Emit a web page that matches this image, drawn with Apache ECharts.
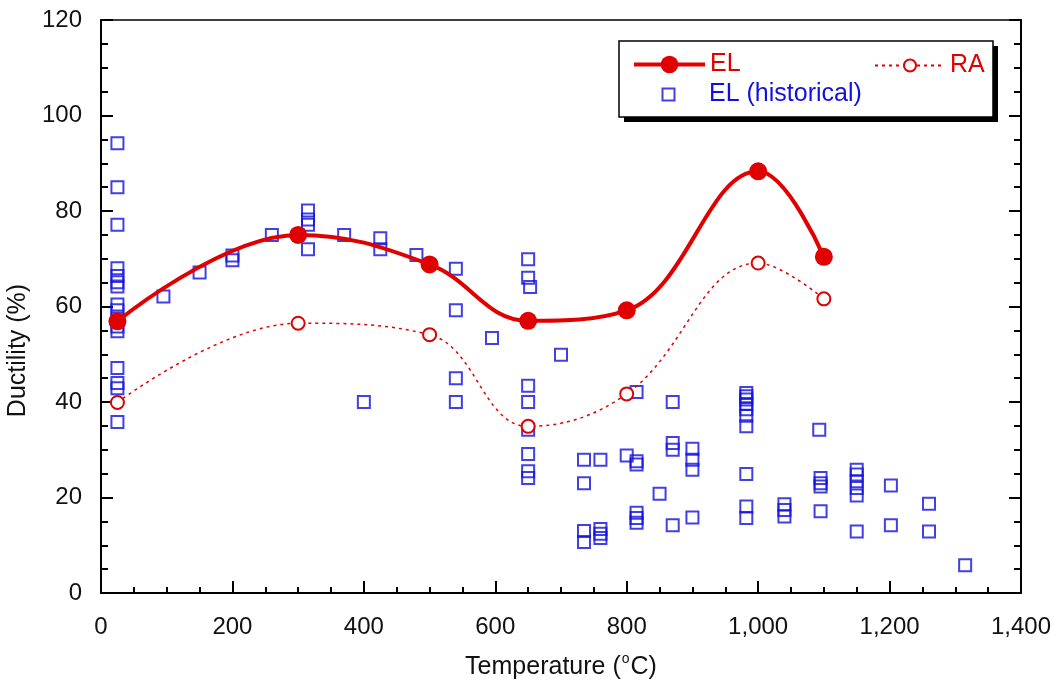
<!DOCTYPE html>
<html>
<head>
<meta charset="utf-8">
<script src="https://cdn.jsdelivr.net/npm/echarts@6/dist/echarts.min.js"></script>
<style>
html,body{margin:0;padding:0;background:#fff;}
#chart{width:1055px;height:683px;}
</style>
</head>
<body>
<div id="chart"></div>
<script>
// ---- data ----
const temps = [25, 300, 500, 650, 800, 1000, 1100];
const elValues = [56.9, 75, 68.8, 57, 59.2, 88.3, 70.4];
const raValues = [39.9, 56.5, 54.1, 34.9, 41.7, 69.1, 61.6];

const histTemp = [
  25,25,25,25,25,25,25,25,25,25,25,25,25,25,25,25,
  95,150,200,200,260,315,315,315,315,370,400,425,425,480,
  540,540,540,540,595,
  650,650,653,650,650,650,650,650,650,
  700,735,735,735,735,760,760,760,760,800,
  815,815,815,815,815,815,850,870,870,870,870,900,900,900,900,
  982,982,982,982,982,982,982,982,982,982,
  1040,1040,1040,1093,1095,1095,1095,1095,
  1150,1150,1150,1150,1150,1150,1202,1202,1260,1260,1315
];
const histEL = [
  94.2,85,77.1,68,66.4,65.1,64.2,60.4,59.2,57.5,55.8,54.8,47.1,44,42.9,35.8,
  62.1,67.1,70.7,69.7,75,80.1,78.2,77.1,72,75,40,74.3,72,70.8,
  67.9,59.2,45,40,53.4,
  69.9,66,64.1,43.4,40,34.2,29.1,25.5,24.1,
  49.9,27.9,23,13,10.7,27.9,13.4,12.4,11.5,28.8,
  42.1,27.6,26.9,16.8,15.7,14.7,20.8,40,31.4,30,14.2,30.2,27.9,25.8,15.8,
  41.9,41.2,40.5,39.6,38.5,37.1,34.9,24.9,18.1,15.7,
  18.6,17.4,16,34.2,24.1,23,22.3,17.1,
  25.8,24.8,23.4,22,20.4,12.9,22.5,14.2,18.7,12.9,5.8
];
const xTicks = {min: 0, max: 1400, interval: 200};
const yTicks = {min: 0, max: 120, interval: 20};

// ---- chart ----
const RED = '#e00000';
const BLUE = '#1010e0';
const FONT = 'Liberation Sans, Arial, sans-serif';
const TXT = '#111';

const elData = temps.map((t, i) => [t, elValues[i]]);
const raData = temps.map((t, i) => [t, raValues[i]]);
const histData = histTemp.map((t, i) => [t, histEL[i]]);

const chart = echarts.init(document.getElementById('chart'), null, {renderer: 'canvas'});

const yAxisBase = {
  type: 'value', min: yTicks.min, max: yTicks.max, interval: yTicks.interval,
  axisLine: {show: true, onZero: false, lineStyle: {color: '#000', width: 2}},
  axisTick: {show: true, inside: true, length: 12, lineStyle: {color: '#000', width: 2}},
  minorTick: {show: true, splitNumber: 4, length: 7, lineStyle: {color: '#000', width: 2}},
  splitLine: {show: false},
};

chart.setOption({
  animation: false,
  backgroundColor: '#fff',
  grid: {left: 101, right: 34, top: 20, bottom: 90, outerBoundsMode: 'none', containLabel: false,
    show: true, borderColor: '#000', borderWidth: 1.5, backgroundColor: 'transparent'},
  xAxis: {
    type: 'value', min: xTicks.min, max: xTicks.max, interval: xTicks.interval,
    axisLine: {show: true, onZero: false, lineStyle: {color: '#000', width: 2}},
    axisTick: {show: true, inside: true, length: 12, lineStyle: {color: '#000', width: 2}},
    minorTick: {show: true, splitNumber: 4, length: 6, lineStyle: {color: '#000', width: 2}},
    splitLine: {show: false},
    axisLabel: {fontFamily: FONT, fontSize: 24, color: TXT, margin: 22,
      formatter: v => v.toLocaleString('en-US')},
    name: '{a|Temperature (}{s|o}{a|C)}',
    nameLocation: 'middle', nameGap: 59,
    nameTextStyle: {
      rich: {
        a: {fontFamily: FONT, fontSize: 25, color: TXT, lineHeight: 30},
        s: {fontFamily: FONT, fontSize: 14, color: TXT, verticalAlign: 'top', lineHeight: 30, padding: [0, 1, 16, 1]}
      }
    }
  },
  yAxis: [
    Object.assign({}, yAxisBase, {
      position: 'left',
      axisLabel: {fontFamily: FONT, fontSize: 24, color: TXT, margin: 19},
      name: 'Ductility (%)', nameLocation: 'middle', nameGap: 61,
      nameTextStyle: {fontFamily: FONT, fontSize: 25, color: TXT, padding: [0, 88, 0, 0]}
    }),
    Object.assign({}, yAxisBase, {
      position: 'right',
      axisLabel: {show: false}
    })
  ],
  graphic: [
    {
      type: 'rect', z: 0, silent: true,
      shape: {x: 624, y: 46, width: 374, height: 76},
      style: {fill: '#000', stroke: null}
    },
    {
      type: 'rect', z: 1, silent: true,
      shape: {x: 619, y: 41, width: 374, height: 76},
      style: {fill: '#fff', stroke: '#000', lineWidth: 1.5}
    }
  ],
  legend: [
    {
      data: ['EL'], left: 632, top: 52, z: 10, padding: 0,
      itemWidth: 71, itemHeight: 22, itemGap: 0,
      textStyle: {fontFamily: FONT, fontSize: 25, color: RED},
      lineStyle: {width: 4}
    },
    {
      data: ['RA'], left: 874, top: 53, z: 10, padding: 0,
      itemWidth: 70, itemHeight: 15, itemGap: 0,
      textStyle: {fontFamily: FONT, fontSize: 25, color: RED}
    },
    {
      data: [{name: 'EL (historical)', icon: 'path://M0 0M71 14M29.5 1H41.5V13H29.5Z'}],
      left: 632, top: 82, z: 10, padding: 0,
      itemWidth: 71, itemHeight: 14, itemGap: 0, symbolKeepAspect: false,
      textStyle: {fontFamily: FONT, fontSize: 25, color: BLUE},
      itemStyle: {color: 'rgba(0,0,0,0)', borderColor: BLUE, borderWidth: 2}
    }
  ],
  series: [
    {
      name: 'EL (historical)', type: 'scatter', data: histData,
      symbol: 'rect', symbolSize: 12, z: 2,
      itemStyle: {color: 'rgba(0,0,0,0)', borderColor: BLUE, borderWidth: 2}
    },
    {
      name: 'RA', type: 'line', data: raData, smooth: 0.4,
      symbol: 'emptyCircle', symbolSize: 13, z: 3,
      lineStyle: {color: RED, width: 1.5, type: [3, 4]},
      itemStyle: {color: RED, borderColor: RED, borderWidth: 1.5}
    },
    {
      name: 'EL', type: 'line', data: elData, smooth: 0.4,
      symbol: 'circle', symbolSize: 18, z: 4,
      lineStyle: {color: RED, width: 4},
      itemStyle: {color: RED}
    }
  ]
});
</script>
</body>
</html>
